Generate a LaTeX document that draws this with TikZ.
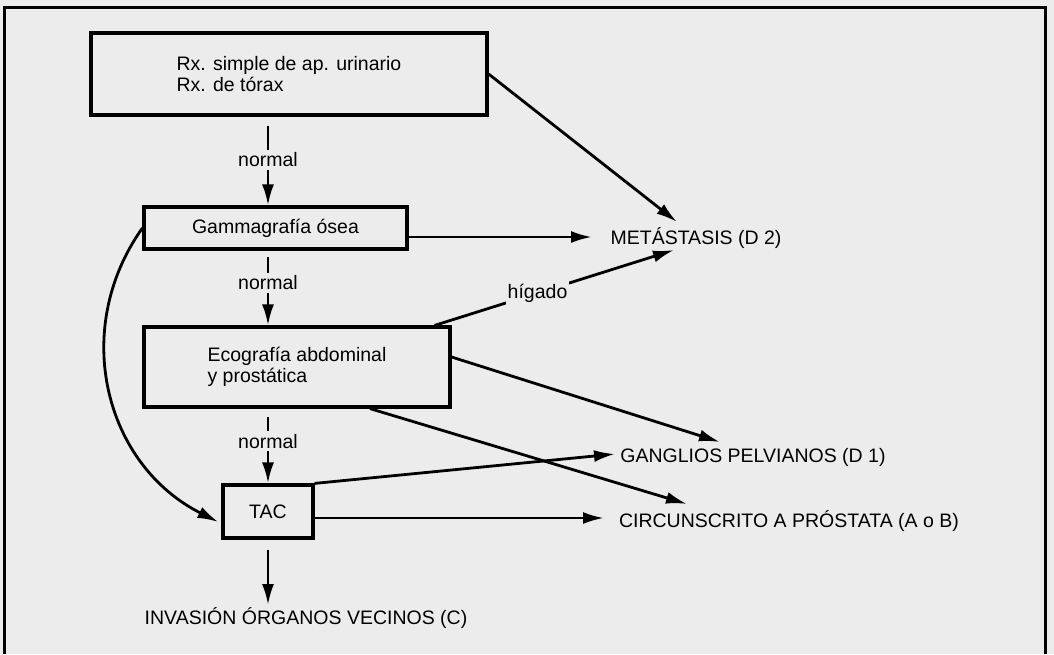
\documentclass[tikz,border=0pt]{standalone}
\usepackage{fontspec}
\setmainfont{Liberation Sans}
\usetikzlibrary{arrows.meta,calc}
\definecolor{paper}{gray}{0.925}
\begin{document}
\begin{tikzpicture}[x=1pt, y=-1pt, font=\fontsize{19.5}{21}\selectfont,
  box/.style={draw, line width=3.2pt, align=left},
  lbl/.style={inner sep=0pt, anchor=base},
  flow/.style={line width=2.8pt, -{Latex[length=21pt,width=12pt]}},
  tag/.style={fill=paper, inner xsep=2pt, inner ysep=3pt}]
\fill[paper] (0,0) rectangle (1054,654);
\useasboundingbox (0,0) rectangle (1054,654);
\draw[line width=3pt] (4,654) -- (4,7) -- (1045,7) -- (1045,654);
\node[box, minimum width=396pt, minimum height=82pt] (rx) at (289,74) {Rx. simple de ap. urinario\\Rx. de tórax};
\node[box, minimum width=263pt, minimum height=42pt] (gam) at (275.5,228) {Gammagrafía ósea};
\node[box, minimum width=306pt, minimum height=80pt] (eco) at (297,367) {Ecografía abdominal\\y prostática};
\node[box, minimum width=90pt, minimum height=53pt] (tac) at (268,511.5) {TAC};
\node[lbl] (met) at (696,244) {METÁSTASIS (D 2)};
\node[lbl] (gan) at (753,462) {GANGLIOS PELVIANOS (D 1)};
\node[lbl] (cir) at (789,527) {CIRCUNSCRITO A PRÓSTATA (A o B)};
\node[lbl] (inv) at (306,624) {INVASIÓN ÓRGANOS VECINOS (C)};
\draw[flow] ($(rx.south -| tac.north)+(0,9)$) -- node[tag, pos=0.43] {normal} (gam.north -| tac.north);
\draw[flow] ($(gam.south -| tac.north)+(0,6)$) -- node[tag, pos=0.38] {normal} (eco.north -| tac.north);
\draw[flow] ($(eco.south -| tac.north)+(0,8)$) -- node[tag, pos=0.37] {normal} (tac.north);
\draw[flow] ($(tac.south)+(0,10)$) -- ($(tac.south |- inv.base)+(0,-19)$);
\draw[flow] (rx.east) -- ($(met.base)+(-19,-22)$);
\draw[flow] ($(gam.east |- met.base)+(0,-7)$) -- ($(met.base)+(-104,-7)$);
\draw[flow] ($(eco.north east)+(-17,0)$) -- node[tag, pos=0.43] {hígado} ($(met.base)+(-22,6)$);
\draw[flow] ($(eco.east)+(0,-10)$) -- ($(gan.base)+(-33,-20)$);
\draw[flow] ($(eco.south)+(73,0)$) -- ($(cir.base)+(-102,-23)$);
\draw[flow] (tac.north east) -- ($(gan.base)+(-138,-8)$);
\draw[flow] ($(tac.east |- cir.base)+(0,-9)$) -- ($(cir.base)+(-185,-9)$);
\draw[flow] (gam.west) .. controls (70,330) and (105,465) .. ($(tac.west)+(-3,10.5)$);
\end{tikzpicture}
\end{document}
